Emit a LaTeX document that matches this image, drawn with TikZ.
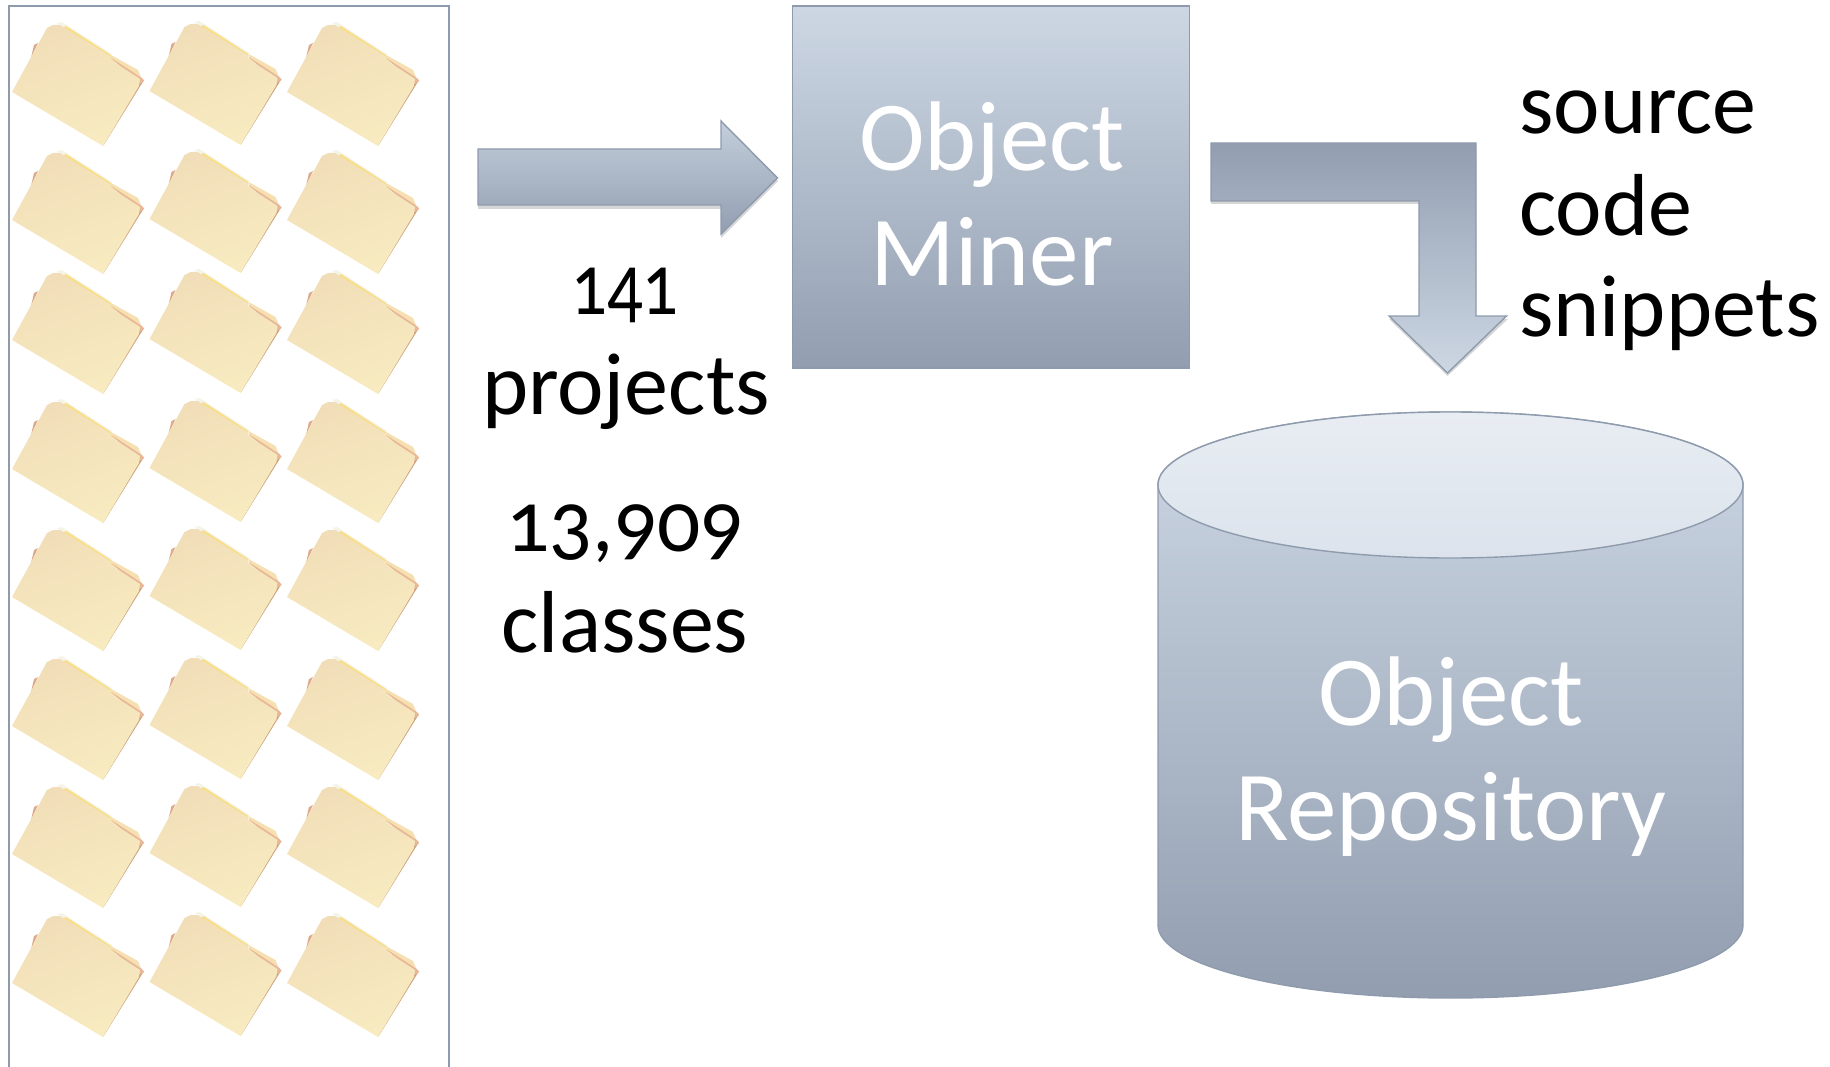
\documentclass[tikz,border=0pt]{standalone}
\usepackage{fontspec}
\setmainfont[Numbers=OldStyle]{Carlito}
\definecolor{edgec}{HTML}{8E9BAD}
\definecolor{lightc}{HTML}{CDD7E4}
\definecolor{darkc}{HTML}{929EB0}
\definecolor{folderA}{HTML}{F1DEB8}
\definecolor{folderB}{HTML}{F8EBC0}
\definecolor{sliverL}{HTML}{DDA987}
\definecolor{sliverR}{HTML}{CC9F78}
\definecolor{tabc}{HTML}{F6DFB0}
\definecolor{tabedge}{HTML}{E8B796}
\definecolor{paperc}{HTML}{F4F4E8}
\definecolor{stripc}{HTML}{F9DE86}
\tikzset{
  blocklight/.style={draw=edgec,line width=1.4pt,top color=lightc,bottom color=darkc},
  blockdark/.style={draw=edgec,line width=1.4pt,top color=darkc,bottom color=lightc},
  blockshadow/.style={fill=black,opacity=0.16,draw=none},
  whitetext/.style={text=white,anchor=base,font=\fontsize{99}{99}\selectfont,inner sep=0pt},
  blacktext/.style={text=black,anchor=base,font=\fontsize{88}{88}\selectfont,inner sep=0pt},
  blackleft/.style={blacktext,anchor=base west},
  folderbody/.style={left color=folderA,right color=folderB,shading angle=20,draw=none},
}
\newcommand{\folderpic}{%
  \fill[paperc] (57,23) -- (62,22) -- (112,54) -- (108,58) -- cycle;
  \fill[stripc] (63,28) -- (66,26) -- (111,55) -- (110,60) -- cycle;
  \fill[sliverL] (31,58) -- (34,45) -- (38,43) -- cycle;
  \fill[sliverR] (144,80) -- (105,143) -- (103,146) -- (138,78) -- cycle;
  \fill[tabc] (111,55) -- (138,70) -- (141,77) -- (111,60) -- cycle;
  \fill[tabedge] (111,58) -- (142,78) -- (144,81) -- (140,84) -- cycle;
  \shade[folderbody] (12,92) -- (47,28) -- (53,25) -- (60,25) -- (110,56) -- (111,60) -- (140,79) -- (139,86) -- (103,146) -- cycle;
}
\begin{document}
\begin{tikzpicture}[x=1pt,y=-1pt]
\useasboundingbox (0,0) rectangle (1830,1067);
\draw[edgec,line width=2pt] (9,1067) -- (9,6) -- (449,6) -- (449,1067);
\foreach \r in {0,128,248,377,505,634,762,891}
  \foreach \c/\u in {0/0,137.5/-1,275/0}
    \begin{scope}[shift={(\c,\r+\u)}]\folderpic\end{scope};
% block arrow 1
\fill[blockshadow] (478,152) -- (721,152) -- (721,124) -- (778,181) -- (721,238) -- (721,209) -- (478,209) -- cycle;
\draw[blocklight,top color=lightc!85!darkc] (478,149) -- (721,149) -- (721,121) -- (777.5,178) -- (721,234) -- (721,205) -- (478,205) -- cycle;
% object miner
\node[blocklight,minimum width=397pt,minimum height=362pt,inner sep=0pt] (miner) at (991,187) {};
\node[whitetext] (obj1) at (992,171) {Object};
\node[whitetext] (min1) at (992,285) {Miner};
% block arrow 2
\fill[blockshadow] (1211,146) -- (1476,146) -- (1476,319) -- (1508,319) -- (1447.5,376) -- (1389,319) -- (1419,319) -- (1419,204) -- (1211,204) -- cycle;
\draw[blockdark] (1211,143) -- (1476,143) -- (1476,316) -- (1506.5,316) -- (1447.5,373) -- (1389,316) -- (1419,316) -- (1419,201) -- (1211,201) -- cycle;
% cylinder
\draw[blocklight] (1158,485) -- (1158,925) arc[start angle=180,end angle=0,x radius=292.5,y radius=73] -- (1743,485) arc[start angle=0,end angle=-180,x radius=292.5,y radius=73] -- cycle;
\draw[draw=edgec,line width=1.4pt,top color=lightc!45!white,bottom color=lightc!70!white] (1450.5,485) ellipse[x radius=292.5,y radius=73];
\node[whitetext] (obj2) at (1451,725) {Object};
\node[whitetext] (rep) at (1451,840) {Repository};
% labels
\node[blacktext,xscale=0.8] (n141) at (625,314) {141};
\node[blacktext] (proj) at (626,414) {projects};
\node[blacktext,xscale=0.97] (n139) at (625,551) {13,909};
\node[blacktext] (clas) at (625,652) {classes};
\node[blackleft] (src) at (1519,134) {source};
\node[blackleft] (cod) at (1519,236) {code};
\node[blackleft] (sni) at (1519,336) {snippets};
\end{tikzpicture}
\end{document}
